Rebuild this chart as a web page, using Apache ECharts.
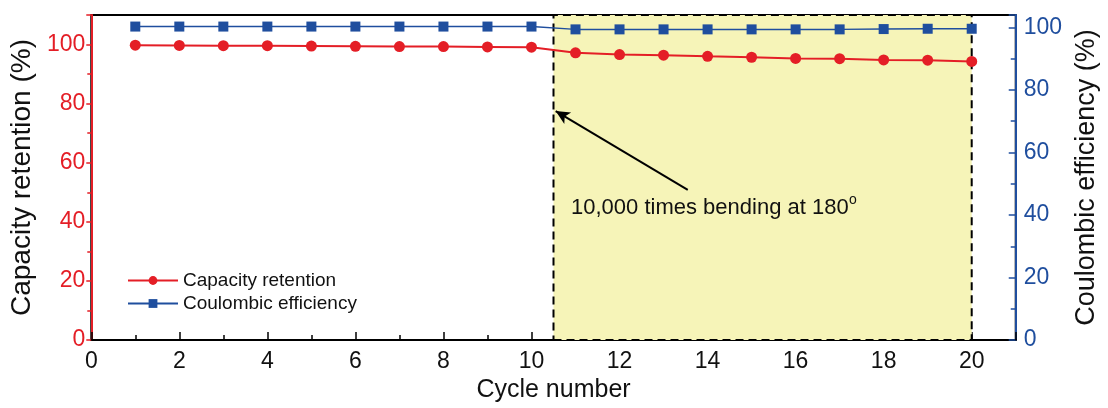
<!DOCTYPE html>
<html>
<head>
<meta charset="utf-8">
<script src="https://cdn.jsdelivr.net/npm/echarts@6/dist/echarts.min.js"></script>
<style>
  html, body { margin: 0; padding: 0; background: #fff; }
  #chart { width: 1108px; height: 408px; }
</style>
</head>
<body>
<div id="chart"></div>
<script>
const cycles = [1, 2, 3, 4, 5, 6, 7, 8, 9, 10, 11, 12, 13, 14, 15, 16, 17, 18, 19, 20];
const capacityRetention = [99.8, 99.7, 99.6, 99.6, 99.5, 99.4, 99.3, 99.3, 99.2, 99.1,
                           97.2, 96.6, 96.4, 96.0, 95.7, 95.3, 95.2, 94.8, 94.7, 94.3];
const coulombicEfficiency = [100.3, 100.3, 100.3, 100.3, 100.3, 100.3, 100.3, 100.3, 100.3, 100.3,
                             99.4, 99.4, 99.4, 99.4, 99.4, 99.4, 99.4, 99.5, 99.6, 99.6];
const bendingRange = [10.5, 20];

const RED = '#e41e26';
const BLUE = '#1f4e9e';
const FONT = 'Liberation Sans, Arial, sans-serif';

const chart = echarts.init(document.getElementById('chart'));

const option = {
    animation: false,
    grid: {
        left: 90, right: 87, top: 15, bottom: 68,
        show: true, borderColor: '#000', borderWidth: 2, backgroundColor: 'transparent'
    },
    legend: {
        orient: 'vertical',
        left: 122, top: 266,
        itemWidth: 50, itemHeight: 11, itemGap: 4,
        textStyle: { fontFamily: FONT, fontSize: 19, color: '#111' },
        data: ['Capacity retention', 'Coulombic efficiency']
    },
    xAxis: {
        type: 'value', min: 0, max: 21, interval: 2,
        name: 'Cycle number', nameLocation: 'middle', nameGap: 38,
        nameTextStyle: { fontFamily: FONT, fontSize: 25, color: '#111' },
        axisLine: { lineStyle: { color: '#000', width: 2 } },
        axisTick: { inside: true, length: 8, lineStyle: { color: '#000', width: 1.5 } },
        minorTick: { show: true, splitNumber: 2, length: 5, lineStyle: { color: '#000', width: 1.5 } },
        axisLabel: { showMaxLabel: false, fontFamily: FONT, fontSize: 23, color: '#111', margin: 10 },
        splitLine: { show: false }
    },
    yAxis: [
        {
            type: 'value', min: 0, max: 110, interval: 20, position: 'left',
            name: 'Capacity retention (%)', nameLocation: 'middle', nameGap: 52, nameRotate: 90,
            nameTextStyle: { fontFamily: FONT, fontSize: 28, color: '#111' },
            axisLine: { show: true, lineStyle: { color: RED, width: 2 } },
            axisTick: { length: 5, lineStyle: { color: RED, width: 1.5 } },
            minorTick: { show: true, splitNumber: 2, length: 4, lineStyle: { color: RED, width: 1.5 } },
            axisLabel: { showMaxLabel: false, fontFamily: FONT, fontSize: 23, color: RED, margin: 6 },
            splitLine: { show: false }
        },
        {
            type: 'value', min: 0, max: 104, interval: 20, position: 'right',
            name: 'Coulombic efficiency (%)', nameLocation: 'middle', nameGap: 52, nameRotate: 90,
            nameTextStyle: { fontFamily: FONT, fontSize: 27, color: '#111' },
            axisLine: { show: true, lineStyle: { color: BLUE, width: 2 } },
            axisTick: { inside: true, length: 7, lineStyle: { color: BLUE, width: 1.5 } },
            minorTick: { show: true, splitNumber: 2, length: 5, lineStyle: { color: BLUE, width: 1.5 } },
            axisLabel: { showMaxLabel: false, fontFamily: FONT, fontSize: 23, color: BLUE, margin: 8 },
            splitLine: { show: false }
        }
    ],
    series: [
        {
            name: 'Capacity retention',
            type: 'line',
            yAxisIndex: 0,
            data: cycles.map((c, i) => [c, capacityRetention[i]]),
            symbol: 'circle', symbolSize: 11,
            itemStyle: { color: RED },
            lineStyle: { color: RED, width: 2 },
            z: 5,
            markArea: {
                silent: true,
                itemStyle: {
                    color: '#f6f4b8', borderColor: '#000', borderWidth: 2, borderType: [8, 5]
                },
                data: [[{ xAxis: bendingRange[0] }, { xAxis: bendingRange[1] }]]
            },
            markLine: {
                silent: true,
                symbol: ['none', 'arrow'],
                symbolSize: [10, 14],
                label: { show: false },
                lineStyle: { color: '#000', width: 2, type: 'solid' },
                data: [[{ coord: [13.55, 50.8] }, { coord: [10.55, 77.5] }]]
            }
        },
        {
            name: 'Coulombic efficiency',
            type: 'line',
            yAxisIndex: 1,
            data: cycles.map((c, i) => [c, coulombicEfficiency[i]]),
            symbol: 'rect', symbolSize: 10,
            itemStyle: { color: BLUE },
            lineStyle: { color: BLUE, width: 1.5 },
            z: 5
        }
    ],
    graphic: [
        {
            type: 'text', left: 571, top: 197, z: 100,
            style: { text: '10,000 times bending at 180', font: '22px Liberation Sans', fill: '#111' }
        },
        {
            type: 'text', left: 849, top: 193, z: 100,
            style: { text: 'o', font: '14px Liberation Sans', fill: '#111' }
        }
    ]
};

chart.setOption(option);
</script>
</body>
</html>
